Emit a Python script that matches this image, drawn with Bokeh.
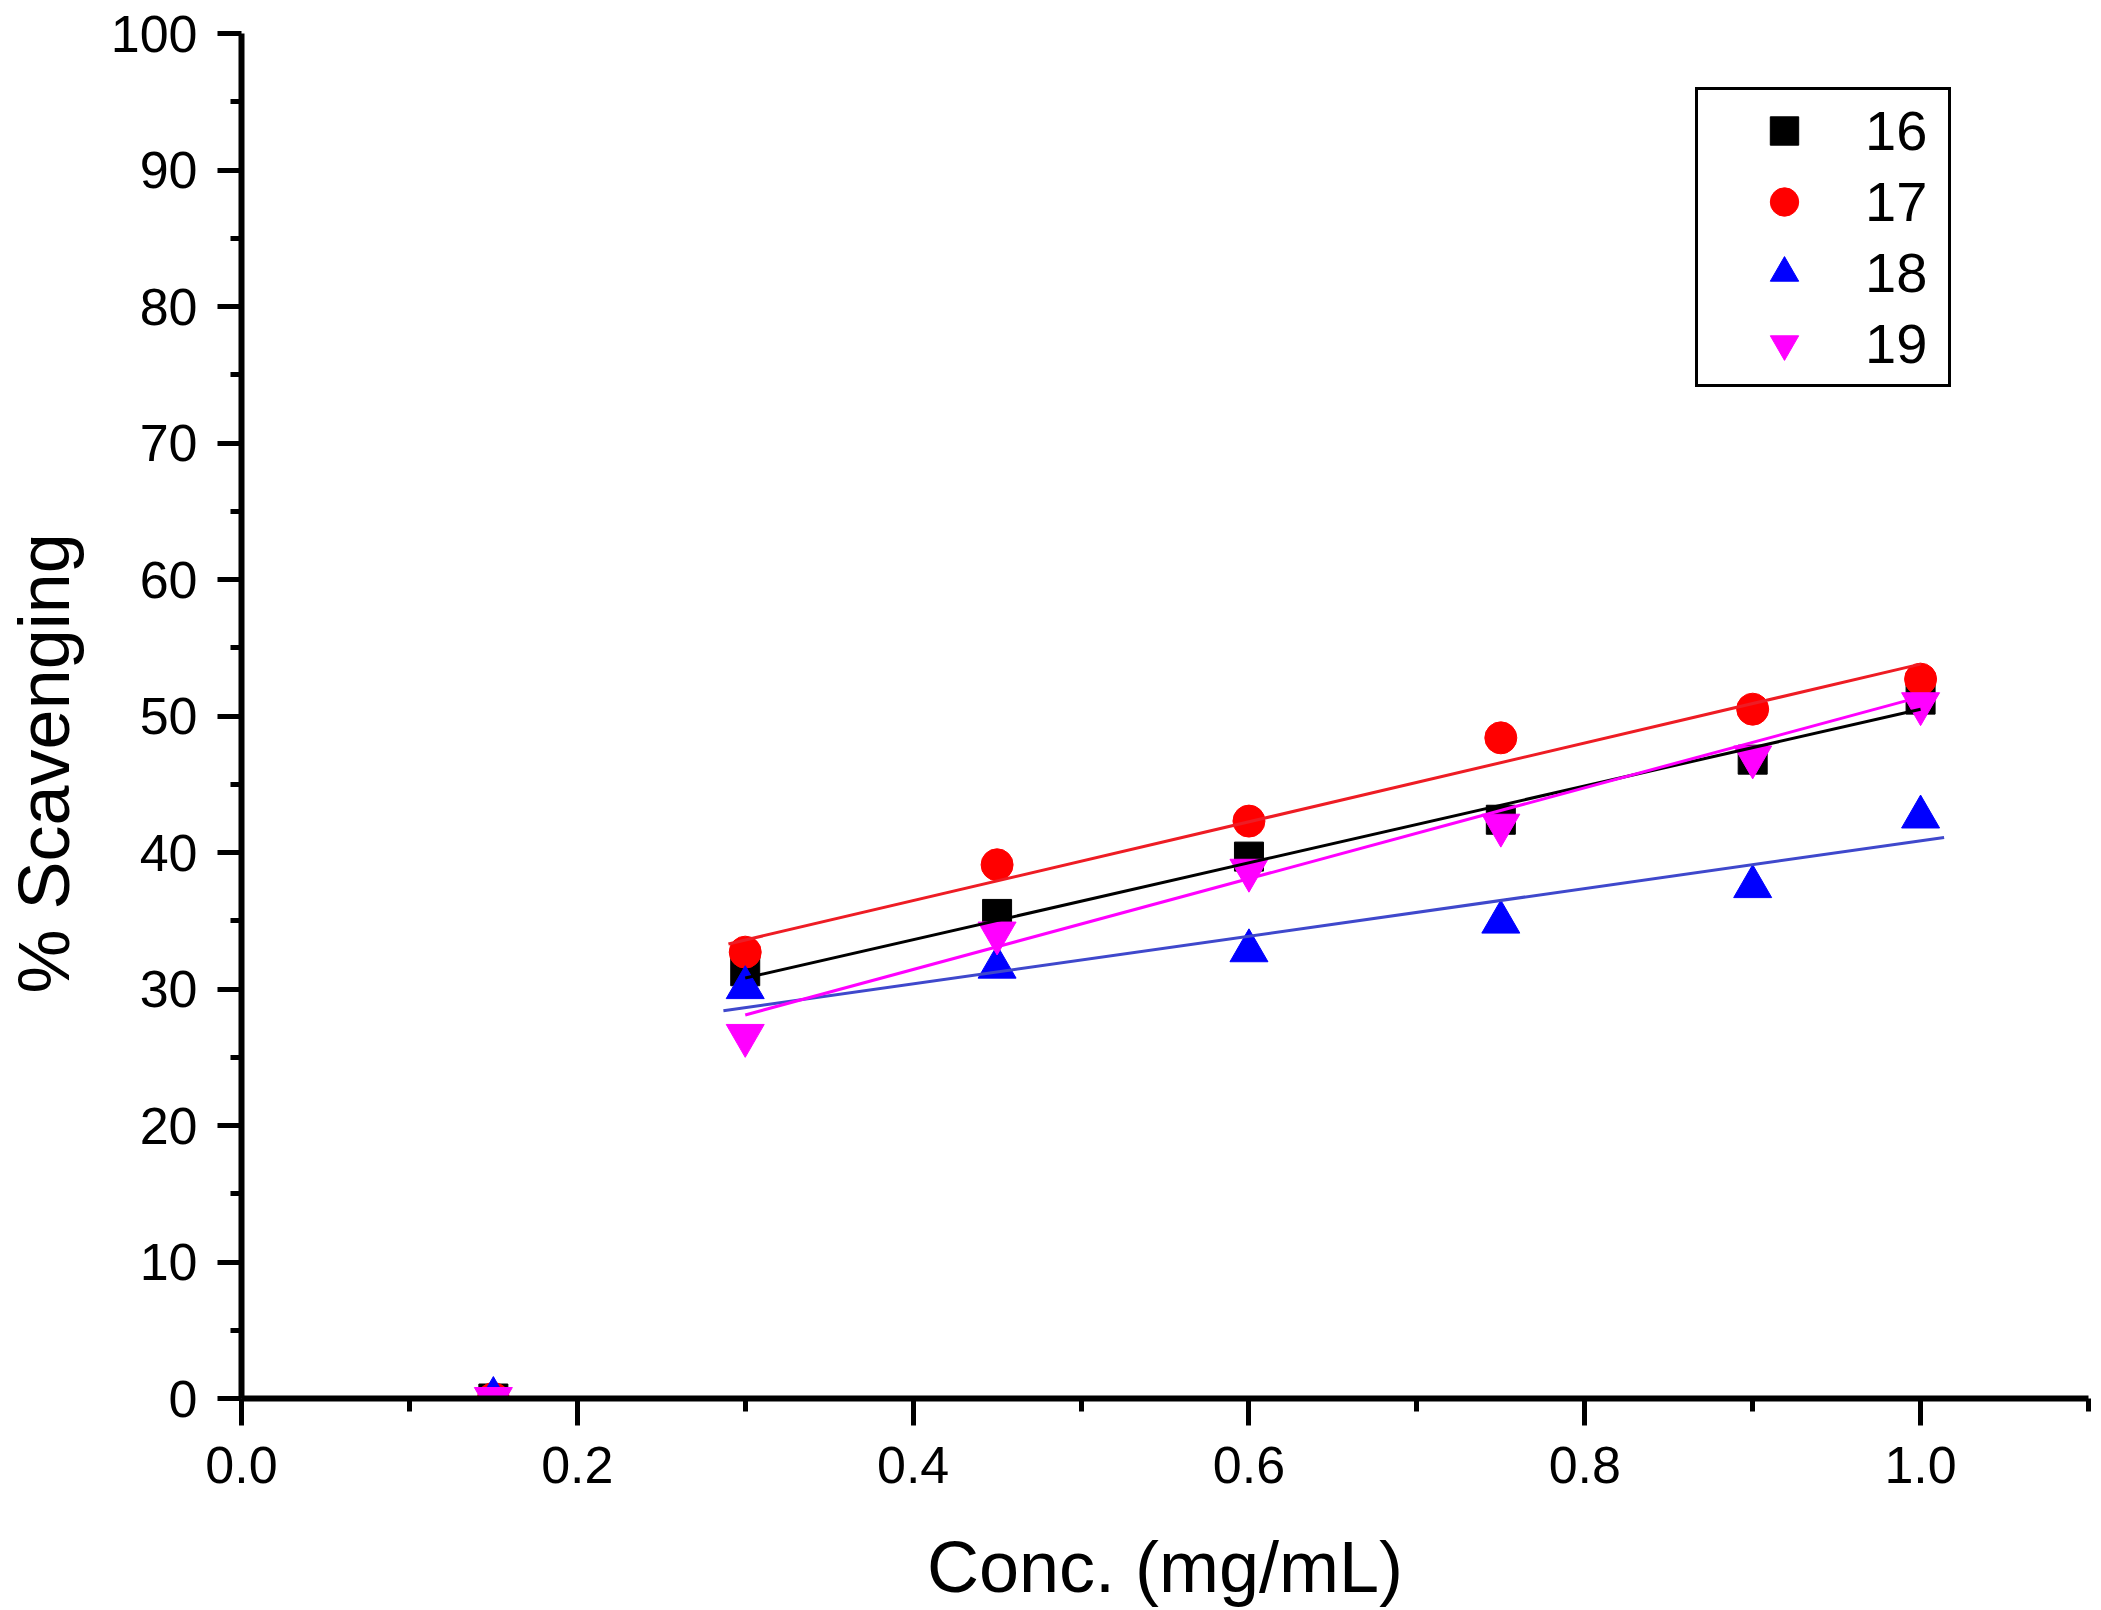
from bokeh.plotting import figure
from bokeh.models import Range1d, FixedTicker, Legend, LegendItem, Title
from bokeh.embed import file_html
from bokeh.resources import INLINE

# ---- data ----
conc = [0.15, 0.30, 0.45, 0.60, 0.75, 0.90, 1.00]
s16 = [0.0, 31.3, 35.5, 39.7, 42.4, 46.8, 51.2]
s17 = [0.0, 32.7, 39.1, 42.3, 48.4, 50.5, 52.7]
s18 = [0.0, 30.1, 31.6, 32.8, 34.9, 37.5, 42.6]
s19 = [0.0, 26.6, 34.1, 38.7, 42.0, 47.0, 50.9]

# linear-fit lines (end points)
fit_x16 = [0.30, 1.00]
fit_y16 = [30.8, 50.5]
fit_x17 = [0.29, 1.00]
fit_y17 = [33.3, 53.8]
fit_x18 = [0.287, 1.014]
fit_y18 = [28.4, 41.1]
fit_x19 = [0.30, 1.00]
fit_y19 = [28.1, 51.4]

series_names = ["16", "17", "18", "19"]

x_ticks = [0.0, 0.2, 0.4, 0.6, 0.8, 1.0]
x_tick_labels = ["0.0", "0.2", "0.4", "0.6", "0.8", "1.0"]
x_minor_ticks = [0.1, 0.3, 0.5, 0.7, 0.9, 1.1]
y_ticks = [0, 10, 20, 30, 40, 50, 60, 70, 80, 90, 100]
y_tick_labels = ["0", "10", "20", "30", "40", "50", "60", "70", "80", "90", "100"]
y_minor_ticks = [5, 15, 25, 35, 45, 55, 65, 75, 85, 95]

x_title = "Conc. (mg/mL)"
y_title = "% Scavenging"

FONT = "Liberation Sans"

p = figure(
    width=2101, height=1610,
    x_range=Range1d(0, 1.1), y_range=Range1d(0, 100),
    output_backend="svg", toolbar_location=None,
    min_border_left=241, min_border_right=13,
    min_border_top=33, min_border_bottom=212,
)
p.outline_line_color = None
p.background_fill_color = "white"
p.border_fill_color = "white"
p.grid.visible = False

# axes
for ax in (p.xaxis[0], p.yaxis[0]):
    ax.axis_line_width = 6
    ax.axis_line_color = "black"
    ax.major_tick_line_width = 5
    ax.minor_tick_line_width = 5
    ax.major_tick_line_color = "black"
    ax.minor_tick_line_color = "black"
    ax.major_tick_in = 0
    ax.minor_tick_in = 0
    ax.major_label_text_font = FONT
    ax.major_label_text_font_size = "52px"
    ax.major_label_text_color = "black"

xa = p.xaxis[0]
xa.ticker = FixedTicker(ticks=x_ticks, minor_ticks=x_minor_ticks)
xa.major_label_overrides = {t: l for t, l in zip(x_ticks, x_tick_labels)}
xa.major_tick_out = 27
xa.minor_tick_out = 13
xa.major_label_standoff = 21
xa.axis_label = x_title
xa.axis_label_text_font = FONT
xa.axis_label_text_font_size = "72px"
xa.axis_label_text_font_style = "normal"
xa.axis_label_text_color = "black"
xa.axis_label_standoff = 41

ya = p.yaxis[0]
ya.ticker = FixedTicker(ticks=y_ticks, minor_ticks=y_minor_ticks)
ya.major_label_overrides = {t: l for t, l in zip(y_ticks, y_tick_labels)}
ya.major_tick_out = 24
ya.minor_tick_out = 11
ya.major_label_standoff = 20
# undrawn (colourless, tiny) axis label: only reserves room so that the
# visible y title below sits at the left edge like the reference
ya.axis_label = y_title
ya.axis_label_text_color = None
ya.axis_label_text_font_size = "1px"
ya.axis_label_standoff = 20

p.add_layout(Title(
    text=y_title, align="left", offset=405, vertical_align="bottom",
    standoff=0, text_font=FONT, text_font_size="72px",
    text_font_style="normal", text_color="black",
), "left")

# scatter series
r16 = p.scatter(conc, s16, marker="square", size=29,
                fill_color="#000000", line_color="#000000")
r17 = p.scatter(conc, s17, marker="circle", size=32,
                fill_color="#FF0000", line_color="#FF0000")
r18 = p.scatter(conc, s18, marker="triangle", size=38,
                fill_color="#0000FF", line_color="#0000FF")
r19 = p.scatter(conc, s19, marker="inverted_triangle", size=38,
                fill_color="#FF00FF", line_color="#FF00FF")

# fit lines
p.line(fit_x16, fit_y16, line_color="#000000", line_width=3)
p.line(fit_x17, fit_y17, line_color="#EE1C24", line_width=3)
p.line(fit_x18, fit_y18, line_color="#3F48CC", line_width=3)
p.line(fit_x19, fit_y19, line_color="#FF00FF", line_width=3)

# legend
legend = Legend(
    items=[LegendItem(label=n, renderers=[r]) for n, r in
           zip(series_names, [r16, r17, r18, r19])],
    location=(1454, 1011),
    orientation="vertical",
    border_line_color="black", border_line_width=3, border_line_alpha=1.0,
    background_fill_color="white", background_fill_alpha=1.0,
    padding=5, spacing=0, margin=0,
    glyph_width=162, glyph_height=71,
    label_standoff=0, label_height=71, label_width=78,
    label_text_font=FONT, label_text_font_size="56px",
    label_text_color="black",
)
p.add_layout(legend)

open("out.html", "w").write(file_html(p, INLINE))
